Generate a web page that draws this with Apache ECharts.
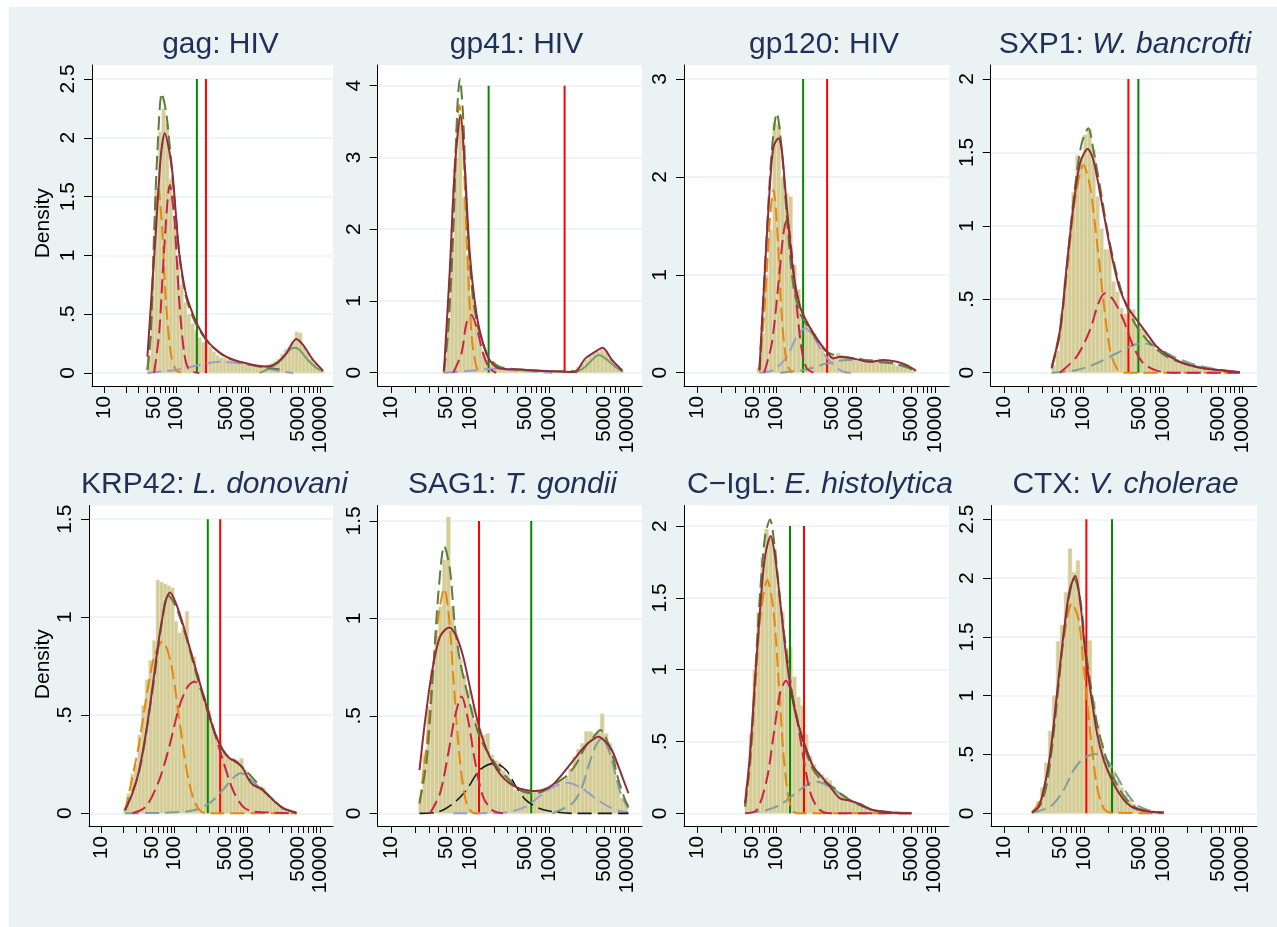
<!DOCTYPE html>
<html><head><meta charset="utf-8">
<script src="https://cdn.jsdelivr.net/npm/echarts@6/dist/echarts.min.js"></script>
<style>html,body{margin:0;padding:0;background:#fff}#c{width:1277px;height:927px}</style>
</head><body><div id="c"></div>
<script>
// ---------- axis ticks (antibody level, log10 scale) ----------
const xTickValues = [10,20,30,40,50,60,70,80,90,100,200,300,400,500,600,700,800,900,1000,2000,3000,4000,5000,6000,7000,8000,9000,10000];
const xLabelValues = [10,50,100,500,1000,5000,10000];
const binWidth = 0.05; // histogram bin width in log10 units

// ---------- panel titles ----------
const titles = [
  ['gag: HIV',''],['gp41: HIV',''],['gp120: HIV',''],['SXP1: ','W. bancrofti'],
  ['KRP42: ','L. donovani'],['SAG1: ','T. gondii'],['C\u2212IgL: ','E. histolytica'],['CTX: ','V. cholerae']
];

// ---------- y tick labels ----------
const gagYTicks=[0,0.5,1,1.5,2,2.5], gp41YTicks=[0,1,2,3,4], gp120YTicks=[0,1,2,3], sxp1YTicks=[0,0.5,1,1.5,2];
const krp42YTicks=[0,0.5,1,1.5], sag1YTicks=[0,0.5,1,1.5], ciglYTicks=[0,0.5,1,1.5,2], ctxYTicks=[0,0.5,1,1.5,2,2.5];

// ---------- histograms: first bin centre (log10) and densities ----------
const gagHistStart=1.625;
const gagHist=[0.15,0.75,1.55,2.05,2.25,2.12,1.65,1.25,0.95,0.75,0.60,0.50,0.42,0.36,0.30,0.26,0.27,0.22,0.18,0.15,0.13,0.13,0.11,0.10,0.09,0.08,0.08,0.07,0.07,0.06,0.06,0.05,0.06,0.07,0.08,0.10,0.12,0.16,0.20,0.22,0.27,0.35,0.34,0.22,0.18,0.12,0.08,0.04,0.02];
const gp41HistStart=1.675;
const gp41Hist=[0.05,0.75,1.70,3.00,3.60,2.45,1.65,1.10,0.70,0.45,0.28,0.18,0.12,0.08,0.06,0.06,0.05,0.05,0.04,0.04,0.03,0.03,0.03,0.02,0.02,0.02,0.02,0.01,0.01,0.01,0.01,0.01,0.02,0.04,0.08,0.13,0.18,0.23,0.27,0.29,0.32,0.30,0.20,0.12,0.06,0.02];
const gp120HistStart=1.775;
const gp120Hist=[0.05,0.40,1.00,1.46,2.55,2.53,2.00,1.83,1.80,1.10,0.85,0.62,0.52,0.46,0.40,0.32,0.26,0.18,0.16,0.17,0.20,0.18,0.15,0.14,0.13,0.12,0.11,0.12,0.11,0.12,0.13,0.12,0.11,0.10,0.09,0.07,0.06,0.05,0.03,0.02];
const sxp1HistStart=1.625;
const sxp1Hist=[0.05,0.15,0.40,0.62,0.85,1.23,1.48,1.47,1.62,1.66,1.52,1.20,0.98,0.84,0.84,0.62,0.55,0.44,0.40,0.43,0.43,0.32,0.30,0.28,0.22,0.20,0.16,0.13,0.14,0.13,0.10,0.09,0.07,0.06,0.05,0.04,0.04,0.03,0.03,0.04,0.02,0.02,0.01,0.01,0.01,0.01,0.01];
const krp42HistStart=1.325;
const krp42Hist=[0.03,0.10,0.20,0.25,0.40,0.55,0.68,0.78,0.88,1.19,1.18,1.17,1.16,1.15,0.98,0.92,0.95,1.03,0.82,0.80,0.71,0.62,0.56,0.52,0.46,0.40,0.37,0.32,0.30,0.28,0.28,0.27,0.28,0.22,0.19,0.16,0.15,0.14,0.13,0.10,0.08,0.06,0.04,0.03,0.02,0.02,0.01];
const sag1HistStart=1.375;
const sag1Hist=[0.08,0.30,0.55,0.74,0.91,1.06,1.30,1.52,1.06,0.92,0.79,0.71,0.63,0.55,0.48,0.41,0.40,0.41,0.30,0.27,0.26,0.22,0.20,0.16,0.12,0.11,0.12,0.12,0.11,0.12,0.12,0.12,0.13,0.14,0.15,0.16,0.17,0.19,0.23,0.29,0.33,0.36,0.42,0.42,0.41,0.42,0.51,0.41,0.36,0.28,0.17,0.08,0.05];
const ciglHistStart=1.625;
const ciglHist=[0.18,0.55,1.00,1.40,1.78,1.98,1.92,1.84,1.55,1.40,1.15,1.16,0.95,0.81,0.75,0.55,0.40,0.34,0.29,0.27,0.25,0.23,0.19,0.15,0.13,0.12,0.10,0.08,0.07,0.05,0.04,0.03,0.02,0.02,0.01,0.01,0.01,0.01,0.01,0.01,0.01,0.01];
const ctxHistStart=1.375;
const ctxHist=[0.03,0.10,0.22,0.43,0.70,1.00,1.46,1.60,1.88,2.25,2.05,2.15,1.60,1.42,1.47,0.95,0.75,0.60,0.46,0.40,0.36,0.28,0.22,0.16,0.12,0.08,0.05,0.04,0.03,0.02,0.02,0.01,0.01];

// ---------- density curves [log10 value, density] ----------
const gagKernel=[[1.600,0.139],[1.716,1.188],[1.786,1.840],[1.842,2.038],[1.902,1.896],[1.949,1.698],[1.995,1.358],[2.042,1.018],[2.135,0.677],[2.228,0.507],[2.321,0.380],[2.460,0.252],[2.693,0.139],[2.972,0.082],[3.251,0.054],[3.391,0.082],[3.530,0.167],[3.670,0.289],[3.763,0.238],[3.902,0.111],[4.042,0.020]];
const gagTotal=[[1.600,0.026],[1.647,0.337],[1.693,1.188],[1.740,1.896],[1.800,2.378],[1.856,2.236],[1.902,1.981],[1.949,1.670],[1.995,1.329],[2.065,0.904],[2.135,0.649],[2.228,0.479],[2.321,0.366],[2.460,0.252],[2.693,0.133],[2.972,0.077],[3.251,0.045],[3.437,0.031]];
const gagOrange=[[1.600,0.026],[1.647,0.337],[1.693,1.046],[1.753,1.570],[1.809,1.188],[1.856,0.621],[1.926,0.167],[1.995,0.026],[2.065,0.003]];
const gagCrimson=[[1.693,0],[1.763,0.337],[1.833,1.046],[1.912,1.599],[1.972,1.329],[2.042,0.621],[2.112,0.167],[2.181,0.026],[2.321,0]];
const gagLavender=[[1.600,0],[1.995,0.026],[2.321,0.068],[2.600,0.096],[2.879,0.082],[3.158,0.054],[3.391,0.020],[3.623,0]];
const gagGreen=[[3.158,0],[3.344,0.054],[3.484,0.125],[3.577,0.196],[3.647,0.215],[3.716,0.196],[3.809,0.125],[3.926,0.054],[4.042,0.011]];
const gagCut=[2.288,2.414]; // [green, red]

const gp41Kernel=[[1.670,0.028],[1.746,1.477],[1.809,2.871],[1.880,3.591],[1.934,2.871],[1.997,1.663],[2.081,0.827],[2.165,0.409],[2.248,0.177],[2.374,0.060],[2.625,0.046],[3.044,0.019],[3.317,0.009],[3.463,0.200],[3.589,0.293],[3.681,0.348],[3.799,0.177],[3.933,0.028]];
const gp41Total=[[1.670,0.014],[1.725,0.600],[1.788,1.942],[1.838,3.661],[1.871,4.093],[1.913,3.568],[1.955,2.314],[2.018,1.245],[2.081,0.734],[2.165,0.409],[2.248,0.200],[2.374,0.084],[2.625,0.046],[3.044,0.019],[3.338,0.019]];
const gp41Orange=[[1.670,0],[1.720,0.700],[1.767,1.942],[1.829,3.336],[1.863,3.731],[1.905,3.336],[1.955,1.942],[2.018,0.548],[2.081,0.084],[2.144,0]];
const gp41Crimson=[[1.788,0],[1.892,0.269],[1.955,0.688],[2.018,0.804],[2.081,0.641],[2.165,0.269],[2.248,0.060],[2.332,0]];
const gp41Lavender=[[1.670,0],[1.997,0.028],[2.290,0.056],[2.625,0.028],[3.044,0]];
const gp41Green=[[3.338,0],[3.463,0.084],[3.547,0.177],[3.631,0.246],[3.715,0.200],[3.840,0.084],[3.933,0.014]];
const gp41Cut=[2.236,3.199];

const gp120Kernel=[[1.783,0.027],[1.854,1.083],[1.917,1.934],[1.960,2.308],[2.023,2.394],[2.065,2.274],[2.128,1.696],[2.212,1.015],[2.296,0.674],[2.380,0.521],[2.465,0.402],[2.549,0.300],[2.633,0.215],[2.717,0.146],[2.801,0.163],[2.886,0.157],[3.012,0.136],[3.180,0.112],[3.348,0.129],[3.517,0.112],[3.643,0.078],[3.761,0.020]];
const gp120Total=[[1.783,0.027],[1.875,1.423],[1.939,2.274],[2.002,2.649],[2.065,2.274],[2.128,1.593],[2.212,0.878],[2.296,0.606],[2.338,0.538],[2.423,0.436],[2.507,0.334],[2.633,0.215],[2.801,0.163],[3.012,0.146],[3.222,0.112],[3.475,0.095],[3.643,0.061],[3.761,0.010]];
const gp120Orange=[[1.783,0.010],[1.854,0.742],[1.917,1.593],[1.960,1.866],[2.010,1.423],[2.065,0.572],[2.128,0.095],[2.191,0]];
const gp120Crimson=[[1.842,0],[1.939,0.300],[2.023,0.912],[2.086,1.423],[2.128,1.559],[2.191,1.219],[2.254,0.674],[2.317,0.232],[2.380,0.044],[2.465,0]];
const gp120Lavender=[[1.783,0],[1.960,0.027],[2.128,0.163],[2.254,0.368],[2.359,0.453],[2.465,0.368],[2.591,0.197],[2.717,0.078],[2.843,0.010],[2.970,0]];
const gp120Teal=[[2.044,0],[2.380,0.034],[2.633,0.095],[2.886,0.129],[3.222,0.129],[3.475,0.095],[3.761,0.020]];
const gp120Cut=[2.334,2.637];

const sxp1Kernel=[[1.598,0.030],[1.703,0.291],[1.787,0.722],[1.871,1.131],[1.955,1.426],[2.052,1.523],[2.123,1.448],[2.207,1.221],[2.291,0.972],[2.375,0.745],[2.459,0.563],[2.564,0.438],[2.669,0.359],[2.795,0.268],[2.921,0.177],[3.089,0.109],[3.257,0.064],[3.508,0.030],[3.760,0.014],[3.970,0.002]];
const sxp1Total=[[1.598,0.030],[1.703,0.268],[1.808,0.835],[1.892,1.267],[1.976,1.562],[2.060,1.664],[2.123,1.516],[2.207,1.267],[2.291,0.994],[2.375,0.767],[2.459,0.586],[2.543,0.449],[2.669,0.313],[2.837,0.200],[3.047,0.109],[3.257,0.064],[3.508,0.030],[3.760,0.014],[3.970,0.002]];
const sxp1Orange=[[1.598,0.041],[1.703,0.291],[1.808,0.767],[1.892,1.176],[1.997,1.414],[2.081,1.267],[2.165,0.904],[2.249,0.495],[2.333,0.154],[2.417,0.030],[2.501,0],[3.970,0]];
const sxp1Crimson=[[1.703,0],[1.913,0.109],[2.081,0.291],[2.186,0.472],[2.270,0.540],[2.375,0.495],[2.501,0.359],[2.627,0.177],[2.753,0.064],[2.921,0.014],[3.089,0],[3.970,0]];
const sxp1Teal=[[1.598,0],[1.913,0.018],[2.165,0.064],[2.417,0.132],[2.627,0.188],[2.753,0.200],[2.921,0.177],[3.089,0.120],[3.341,0.064],[3.593,0.030],[3.970,0.002]];
const sxp1Cut=[2.690,2.564];

const krp42Kernel=[[1.326,0.017],[1.427,0.102],[1.519,0.221],[1.611,0.408],[1.703,0.646],[1.795,0.901],[1.887,1.088],[1.942,1.126],[2.024,1.071],[2.116,0.969],[2.208,0.850],[2.300,0.731],[2.392,0.612],[2.484,0.493],[2.576,0.391],[2.667,0.323],[2.759,0.281],[2.851,0.264],[2.943,0.230],[3.012,0.179],[3.081,0.145],[3.173,0.128],[3.265,0.102],[3.356,0.068],[3.494,0.026],[3.678,0.003]];
const krp42Total=[[1.326,0.014],[1.519,0.213],[1.703,0.629],[1.841,1.003],[1.910,1.114],[2.024,1.054],[2.162,0.901],[2.300,0.714],[2.438,0.544],[2.576,0.391],[2.713,0.298],[2.897,0.247],[3.081,0.179],[3.265,0.102],[3.494,0.026],[3.678,0.003]];
const krp42Orange=[[1.326,0.014],[1.427,0.187],[1.519,0.357],[1.611,0.578],[1.726,0.799],[1.841,0.876],[1.955,0.765],[2.070,0.476],[2.162,0.238],[2.254,0.085],[2.346,0.017],[2.438,0],[3.678,0]];
const krp42Crimson=[[1.427,0],[1.611,0.034],[1.795,0.170],[1.932,0.340],[2.070,0.544],[2.185,0.646],[2.277,0.672],[2.392,0.612],[2.530,0.442],[2.667,0.272],[2.805,0.119],[2.943,0.034],[3.081,0.009],[3.678,0]];
const krp42Teal=[[1.326,0],[1.887,0.003],[2.254,0.014],[2.484,0.051],[2.667,0.119],[2.805,0.179],[2.920,0.204],[3.035,0.179],[3.173,0.128],[3.311,0.085],[3.494,0.026],[3.678,0.003]];
const krp42Cut=[2.461,2.631];

const sag1Kernel=[[1.360,0.222],[1.432,0.479],[1.515,0.718],[1.620,0.906],[1.737,0.953],[1.829,0.906],[1.913,0.804],[1.997,0.650],[2.081,0.496],[2.165,0.376],[2.248,0.291],[2.374,0.205],[2.500,0.154],[2.625,0.128],[2.793,0.115],[2.919,0.120],[3.044,0.145],[3.212,0.222],[3.380,0.308],[3.505,0.363],[3.631,0.393],[3.715,0.368],[3.798,0.325],[3.882,0.239],[3.945,0.171],[4.008,0.103]];
const sag1Total=[[1.360,0.051],[1.452,0.274],[1.536,0.753],[1.599,1.129],[1.674,1.372],[1.746,1.249],[1.809,0.958],[1.871,0.787],[1.955,0.633],[2.039,0.496],[2.123,0.393],[2.207,0.325],[2.290,0.274],[2.374,0.222],[2.500,0.171],[2.625,0.120],[2.793,0.103],[2.919,0.111],[3.044,0.145],[3.212,0.188],[3.338,0.248],[3.463,0.342],[3.568,0.393],[3.652,0.428],[3.715,0.393],[3.798,0.308],[3.882,0.171],[3.966,0.068],[4.008,0.034]];
const sag1Orange=[[1.360,0.051],[1.452,0.359],[1.536,0.753],[1.599,1.009],[1.674,1.154],[1.737,0.992],[1.788,0.701],[1.871,0.274],[1.955,0.051],[2.039,0.003],[2.123,0]];
const sag1Crimson=[[1.494,0],[1.620,0.103],[1.725,0.308],[1.809,0.496],[1.892,0.599],[1.976,0.479],[2.060,0.274],[2.165,0.086],[2.290,0.014],[2.416,0]];
const sag1Black=[[1.360,0],[1.578,0.005],[1.788,0.051],[1.955,0.120],[2.123,0.222],[2.311,0.257],[2.458,0.222],[2.584,0.137],[2.709,0.068],[2.877,0.026],[3.044,0.009],[3.296,0],[4.008,0]];
const sag1Lavender=[[1.788,0],[2.416,0.003],[2.709,0.034],[2.877,0.086],[3.044,0.133],[3.233,0.157],[3.421,0.128],[3.589,0.077],[3.757,0.034],[3.924,0.009],[4.008,0.003]];
const sag1Teal=[[3.044,0],[3.296,0.051],[3.421,0.137],[3.526,0.274],[3.610,0.359],[3.673,0.385],[3.757,0.325],[3.840,0.205],[3.924,0.086],[4.008,0.026]];
const sag1Cut=[2.776,2.114];

const ciglKernel=[[1.602,0.070],[1.665,0.418],[1.728,0.928],[1.791,1.415],[1.854,1.787],[1.926,1.930],[1.981,1.787],[2.044,1.485],[2.128,1.067],[2.212,0.766],[2.296,0.580],[2.380,0.441],[2.465,0.325],[2.570,0.255],[2.675,0.186],[2.801,0.104],[2.928,0.088],[3.054,0.065],[3.222,0.023],[3.475,0.005],[3.706,0]];
const ciglTotal=[[1.602,0.046],[1.665,0.371],[1.728,0.951],[1.791,1.531],[1.854,1.926],[1.917,2.046],[1.981,1.833],[2.044,1.485],[2.128,1.114],[2.212,0.789],[2.296,0.580],[2.380,0.418],[2.465,0.302],[2.570,0.232],[2.675,0.197],[2.801,0.139],[2.928,0.093],[3.054,0.058],[3.222,0.023],[3.475,0.007],[3.706,0]];
const ciglOrange=[[1.602,0.058],[1.665,0.325],[1.728,0.835],[1.791,1.346],[1.884,1.624],[1.960,1.415],[2.023,0.951],[2.086,0.418],[2.149,0.116],[2.212,0.012],[2.296,0],[3.706,0]];
const ciglCrimson=[[1.602,0],[1.749,0.023],[1.875,0.232],[1.960,0.534],[2.044,0.835],[2.120,0.923],[2.191,0.835],[2.275,0.603],[2.359,0.325],[2.444,0.116],[2.549,0.023],[2.675,0],[3.706,0]];
const ciglTeal=[[1.602,0],[1.875,0.023],[2.044,0.058],[2.212,0.128],[2.380,0.197],[2.507,0.220],[2.633,0.197],[2.801,0.139],[2.970,0.081],[3.138,0.035],[3.306,0.012],[3.706,0]];
const ciglCut=[2.170,2.347];

const ctxKernel=[[1.346,0.006],[1.430,0.057],[1.493,0.198],[1.577,0.510],[1.661,1.020],[1.745,1.531],[1.821,1.899],[1.892,2.018],[1.955,1.786],[2.018,1.361],[2.081,1.049],[2.165,0.680],[2.249,0.454],[2.333,0.312],[2.417,0.198],[2.543,0.085],[2.669,0.034],[2.837,0.014],[3.005,0.006]];
const ctxTotal=[[1.346,0.006],[1.451,0.071],[1.535,0.255],[1.619,0.680],[1.703,1.247],[1.787,1.729],[1.879,1.998],[1.955,1.814],[2.018,1.417],[2.081,1.105],[2.165,0.765],[2.249,0.539],[2.333,0.368],[2.417,0.241],[2.543,0.113],[2.669,0.043],[2.837,0.014],[3.005,0.006]];
const ctxOrange=[[1.346,0.006],[1.451,0.113],[1.556,0.397],[1.661,0.964],[1.745,1.474],[1.850,1.786],[1.934,1.644],[1.997,1.247],[2.081,0.680],[2.165,0.227],[2.249,0.043],[2.333,0.006],[3.005,0]];
const ctxTeal=[[1.346,0.006],[1.577,0.057],[1.745,0.198],[1.871,0.368],[1.997,0.468],[2.144,0.505],[2.291,0.454],[2.417,0.312],[2.543,0.170],[2.669,0.071],[2.837,0.023],[3.005,0.006]];
const ctxCut=[2.354,2.031];

// ---------- styles ----------
const FONT='"Liberation Sans", Arial, Helvetica, sans-serif';
const DASH=[14,6];
const STYLE={
  kernel:{color:'#8f2d3d',type:'solid',width:2},
  total:{color:'#5c7d3b',type:DASH,width:2},
  orange:{color:'#e8870e',type:DASH,width:2},
  crimson:{color:'#cc2348',type:DASH,width:2},
  lavender:{color:'#9d9bd2',type:DASH,width:2},
  teal:{color:'#809f9c',type:DASH,width:2},
  black:{color:'#1b1b1b',type:DASH,width:1.6},
  green:{color:'#74a06c',type:'solid',width:2}
};

const panels=[
  {yTicks:gagYTicks,hs:gagHistStart,h:gagHist,cut:gagCut,curves:[['lavender',gagLavender],['orange',gagOrange],['crimson',gagCrimson],['green',gagGreen],['total',gagTotal],['kernel',gagKernel]]},
  {yTicks:gp41YTicks,hs:gp41HistStart,h:gp41Hist,cut:gp41Cut,curves:[['lavender',gp41Lavender],['orange',gp41Orange],['crimson',gp41Crimson],['green',gp41Green],['total',gp41Total],['kernel',gp41Kernel]]},
  {yTicks:gp120YTicks,hs:gp120HistStart,h:gp120Hist,cut:gp120Cut,curves:[['teal',gp120Teal],['lavender',gp120Lavender],['orange',gp120Orange],['crimson',gp120Crimson],['total',gp120Total],['kernel',gp120Kernel]]},
  {yTicks:sxp1YTicks,hs:sxp1HistStart,h:sxp1Hist,cut:sxp1Cut,curves:[['teal',sxp1Teal],['orange',sxp1Orange],['crimson',sxp1Crimson],['total',sxp1Total],['kernel',sxp1Kernel]]},
  {yTicks:krp42YTicks,hs:krp42HistStart,h:krp42Hist,cut:krp42Cut,curves:[['teal',krp42Teal],['orange',krp42Orange],['crimson',krp42Crimson],['total',krp42Total],['kernel',krp42Kernel]]},
  {yTicks:sag1YTicks,hs:sag1HistStart,h:sag1Hist,cut:sag1Cut,curves:[['lavender',sag1Lavender],['teal',sag1Teal],['black',sag1Black],['orange',sag1Orange],['crimson',sag1Crimson],['total',sag1Total],['kernel',sag1Kernel]]},
  {yTicks:ciglYTicks,hs:ciglHistStart,h:ciglHist,cut:ciglCut,curves:[['teal',ciglTeal],['orange',ciglOrange],['crimson',ciglCrimson],['total',ciglTotal],['kernel',ciglKernel]]},
  {yTicks:ctxYTicks,hs:ctxHistStart,h:ctxHist,cut:ctxCut,curves:[['teal',ctxTeal],['orange',ctxOrange],['total',ctxTotal],['kernel',ctxKernel]]}
];

// layout (pixels) for each panel
const layout=[
  {left:92,top:65,width:241,height:321,ymin:-0.111,ymax:2.619,tx:220.5,ty:44.5},
  {left:377.7,top:65,width:264.3,height:321,ymin:-0.185,ymax:4.288,tx:516.5,ty:44.5},
  {left:684,top:65,width:265.3,height:321,ymin:-0.136,ymax:3.143,tx:824,ty:44.5},
  {left:990.7,top:65,width:266,height:321,ymin:-0.091,ymax:2.095,tx:1125,ty:44.5},
  {left:89,top:505.5,width:244,height:320.5,ymin:-0.065,ymax:1.570,tx:214.5,ty:484.5},
  {left:377.7,top:505.5,width:264.3,height:320.5,ymin:-0.065,ymax:1.579,tx:512.5,ty:484.5},
  {left:684,top:505.5,width:265,height:320.5,ymin:-0.088,ymax:2.143,tx:820,ty:484.5},
  {left:991,top:505.5,width:266,height:320.5,ymin:-0.108,ymax:2.617,tx:1125.5,ty:484.5}
];

const xTickLog=xTickValues.map(v=>Math.log10(v));
const xLabelLog=xLabelValues.map(v=>Math.log10(v));
const yFmt=v=>{ if(v===0) return '0'; const s=String(v); return s.startsWith('0.')? s.slice(1): s; };

const grids=[],xAxes=[],yAxes=[],series=[],graphics=[];
graphics.push({type:'rect',shape:{x:0,y:0,width:1277,height:7},style:{fill:'#ffffff'},silent:true});
graphics.push({type:'rect',shape:{x:0,y:0,width:9,height:927},style:{fill:'#ffffff'},silent:true});

panels.forEach((p,i)=>{
  const L=layout[i];
  grids.push({left:L.left,top:L.top,width:L.width,height:L.height,show:true,backgroundColor:'#ffffff',borderWidth:0,containLabel:false,outerBoundsMode:'none'});
  xAxes.push({gridIndex:i,type:'value',min:0.83,max:4.18,
    axisLine:{show:true,onZero:false,lineStyle:{color:'#000',width:1}},
    axisTick:{show:true,customValues:xTickLog,length:7,lineStyle:{color:'#000',width:1}},
    axisLabel:{show:true,customValues:xLabelLog,rotate:90,margin:10,fontSize:20.6,fontFamily:FONT,color:'#000',
      hideOverlap:false,
      formatter:v=>String(Math.round(Math.pow(10,v)))},
    splitLine:{show:false}});
  yAxes.push({gridIndex:i,type:'value',min:L.ymin,max:L.ymax,
    axisLine:{show:true,onZero:false,lineStyle:{color:'#000',width:1}},
    axisTick:{show:true,customValues:p.yTicks,length:8,lineStyle:{color:'#000',width:1}},
    axisLabel:{show:true,customValues:p.yTicks,rotate:90,margin:13,fontSize:21,fontFamily:FONT,color:'#000',
      hideOverlap:false,formatter:yFmt},
    splitLine:{show:true,lineStyle:{color:'#eaf2f3',width:1.5}}});
  // histogram
  series.push({type:'custom',xAxisIndex:i,yAxisIndex:i,silent:true,z:1,
    data:p.h.map((d,k)=>[p.hs+k*binWidth,d]),
    renderItem:(params,api)=>{
      const x=api.value(0),h=api.value(1);
      const a=api.coord([x-binWidth/2,h]),b=api.coord([x+binWidth/2,0]);
      return {type:'rect',shape:{x:a[0],y:a[1],width:b[0]-a[0],height:b[1]-a[1]},
        style:{fill:'#d5cd97',stroke:'#e4e0c0',lineWidth:0.6}};
    }});
  const top=p.yTicks[p.yTicks.length-1];
  // cut-off lines
  series.push({type:'line',xAxisIndex:i,yAxisIndex:i,silent:true,z:2,symbol:'none',data:[[p.cut[0],0],[p.cut[0],top]],lineStyle:{color:'#008a00',width:2}});
  series.push({type:'line',xAxisIndex:i,yAxisIndex:i,silent:true,z:2,symbol:'none',data:[[p.cut[1],0],[p.cut[1],top]],lineStyle:{color:'#ff0000',width:2}});
  p.curves.forEach(([k,pts])=>{
    series.push({type:'line',xAxisIndex:i,yAxisIndex:i,silent:true,z:3,symbol:'none',showSymbol:false,smooth:0.3,
      data:pts,lineStyle:STYLE[k]});
  });
  // title
  const [a,b]=titles[i];
  graphics.push({type:'text',x:L.tx,y:L.ty,silent:true,
    style:{text:b?('{n|'+a+'}{i|'+b+'}'):('{n|'+a+'}'),align:'center',verticalAlign:'middle',textAlign:'center',textVerticalAlign:'middle',
      fill:'#1e2f58',font:'30px '+FONT,
      rich:{n:{fontSize:30,fontFamily:FONT,fill:'#1e2f58',color:'#1e2f58'},i:{fontSize:30,fontFamily:FONT,fontStyle:'italic',fill:'#1e2f58',color:'#1e2f58'}}}});
});
// y axis titles
graphics.push({type:'text',x:42.8,y:223.3,rotation:Math.PI/2,silent:true,style:{text:'Density',font:'21px '+FONT,fill:'#000',align:'center',verticalAlign:'middle',textAlign:'center',textVerticalAlign:'middle'}});
graphics.push({type:'text',x:42.8,y:664.2,rotation:Math.PI/2,silent:true,style:{text:'Density',font:'21px '+FONT,fill:'#000',align:'center',verticalAlign:'middle',textAlign:'center',textVerticalAlign:'middle'}});

const chart=echarts.init(document.getElementById('c'),null,{renderer:'canvas'});
chart.setOption({backgroundColor:'#eaf2f3',animation:false,grid:grids,xAxis:xAxes,yAxis:yAxes,series:series,graphic:{elements:graphics}});
</script></body></html>
